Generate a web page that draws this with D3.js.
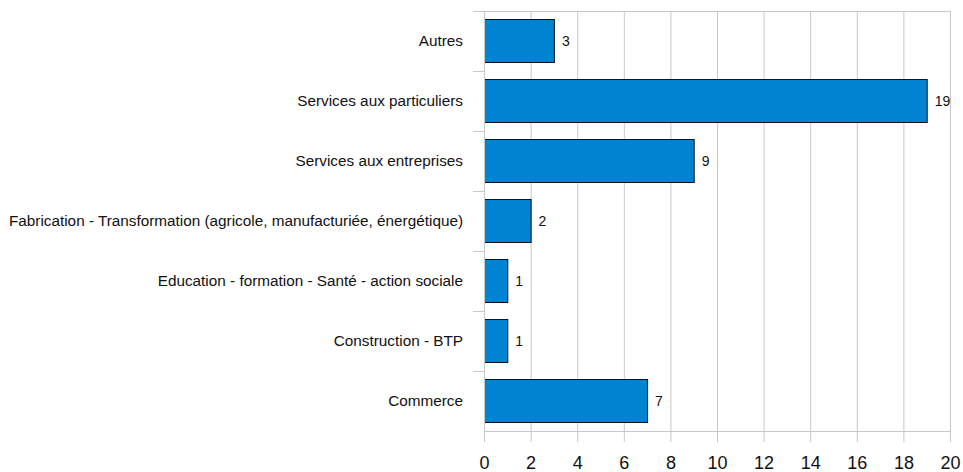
<!DOCTYPE html>
<html>
<head>
<meta charset="utf-8">
<script src="https://cdn.jsdelivr.net/npm/d3@7"></script>
<style>
    body { margin: 0; background: #fff; }
    svg { display: block; font-family: 'Liberation Sans', Arial, sans-serif; }
    .grid line { stroke: #c8c8c8; }
    .grid path { display: none; }
</style>
</head>
<body>
<div id="chart"></div>
<script>
'use strict';
// Chart data
const categories = [
    'Autres',
    'Services aux particuliers',
    'Services aux entreprises',
    'Fabrication - Transformation (agricole, manufacturiée, énergétique)',
    'Education - formation - Santé - action sociale',
    'Construction - BTP',
    'Commerce'
]
const values = [3, 19, 9, 2, 1, 1, 7]
const xTicks = [0, 2, 4, 6, 8, 10, 12, 14, 16, 18, 20]

const W = 963
const H = 472
const margin = { top: 11, right: 13, bottom: 41, left: 484 }
const width = W - margin.left - margin.right
const height = H - margin.top - margin.bottom

const x = d3.scaleLinear().domain([0, 20]).range([0, width])
const y = d3.scaleBand().domain(categories).range([0, height]).paddingInner(0.28).paddingOuter(0.14)

const svg = d3.select('#chart')
    .append('svg')
    .attr('width', W)
    .attr('height', H)
    .append('g')
    .attr('transform', `translate(${margin.left},${margin.top})`)

// Vertical gridlines
svg.append('g')
    .attr('class', 'grid')
    .call(d3.axisBottom(x).tickValues(xTicks).tickSize(height).tickFormat(''))

// Top border line
svg.append('line')
    .attr('x1', -11).attr('x2', width)
    .attr('y1', 0.5).attr('y2', 0.5)
    .attr('stroke', '#c8c8c8')

// Category ticks at band edges
const edges = categories.map(c => y(c) - y.step() * y.paddingInner() / 2)
    .slice(1)
svg.append('g').selectAll('line')
    .data(edges)
    .join('line')
    .attr('x1', -11).attr('x2', 0)
    .attr('y1', d => Math.round(d) + 0.5).attr('y2', d => Math.round(d) + 0.5)
    .attr('stroke', '#c8c8c8')

// Bars
svg.append('g').selectAll('rect')
    .data(values)
    .join('rect')
    .attr('x', 0.5)
    .attr('y', (d, i) => Math.round(y(categories[i])) + 0.5)
    .attr('width', d => x(d))
    .attr('height', Math.round(y.bandwidth()))
    .attr('fill', '#0084d1')
    .attr('stroke', '#111')
    .attr('stroke-width', 1)

// Value labels
svg.append('g').selectAll('text')
    .data(values)
    .join('text')
    .attr('x', d => x(d) + 8)
    .attr('y', (d, i) => y(categories[i]) + y.bandwidth() / 2)
    .attr('dy', '0.35em')
    .attr('font-size', 14)
    .attr('fill', '#111')
    .text(d => d)

// Category labels
svg.append('g').selectAll('text')
    .data(categories)
    .join('text')
    .attr('x', -21)
    .attr('y', d => y(d) + y.bandwidth() / 2)
    .attr('dy', '0.35em')
    .attr('text-anchor', 'end')
    .attr('font-size', 15.3)
    .attr('fill', '#111')
    .text(d => d)

// Bottom axis
const xAxis = svg.append('g')
    .attr('transform', `translate(0,${height})`)
    .call(d3.axisBottom(x).tickValues(xTicks).tickSize(11).tickPadding(14))
xAxis.select('.domain').attr('stroke', '#c8c8c8')
xAxis.selectAll('.tick line').attr('stroke', '#c8c8c8')
xAxis.selectAll('.tick text')
    .attr('font-size', 18)
    .attr('font-family', "'Liberation Sans', Arial, sans-serif")
    .attr('fill', '#111')

// Left axis line
svg.append('line')
    .attr('x1', 0.5).attr('x2', 0.5)
    .attr('y1', 0).attr('y2', height + 11)
    .attr('stroke', '#c8c8c8')
</script>
</body>
</html>
